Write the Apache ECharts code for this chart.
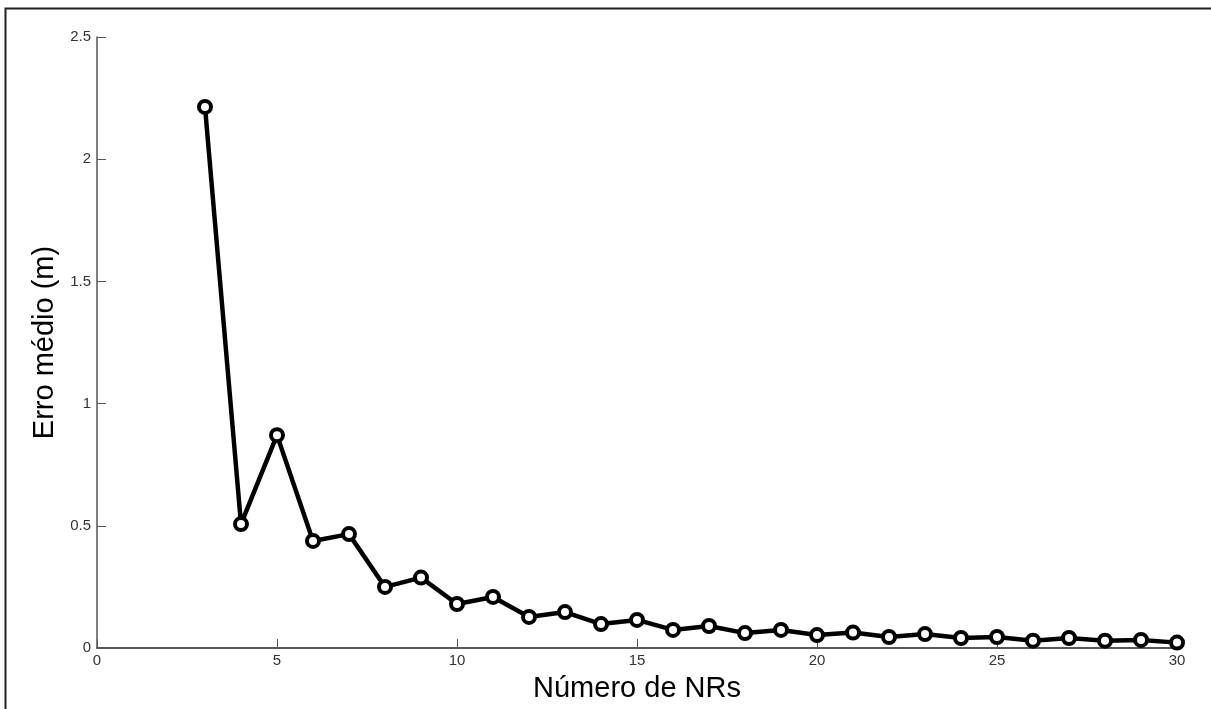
<!DOCTYPE html>
<html>
<head>
<meta charset="utf-8">
<script src="https://cdn.jsdelivr.net/npm/echarts@6/dist/echarts.min.js"></script>
<style>
  html, body { margin: 0; padding: 0; background: #fff; }
  #chart { width: 1211px; height: 709px; }
</style>
</head>
<body>
<div id="chart"></div>
<script>
// numero de NRs
const nrs = [3, 4, 5, 6, 7, 8, 9, 10, 11, 12, 13, 14, 15, 16, 17, 18, 19, 20, 21, 22, 23, 24, 25, 26, 27, 28, 29, 30];
// erro medio (m)
const erro = [2.214, 0.507, 0.871, 0.438, 0.466, 0.25, 0.288, 0.18, 0.209, 0.127, 0.147, 0.098, 0.115, 0.074, 0.09,
  0.061, 0.074, 0.053, 0.063, 0.045, 0.057, 0.041, 0.045, 0.03, 0.041, 0.03, 0.033, 0.022];
const xTicks = [0, 5, 10, 15, 20, 25, 30];
const yTicks = [0, 0.5, 1, 1.5, 2, 2.5];

const points = nrs.map((n, i) => [n, erro[i]]);

const myChart = echarts.init(document.getElementById('chart'));
const tickFont = { color: '#333', fontSize: 15, fontFamily: 'Liberation Sans, Arial, sans-serif' };

const option = {
  animation: false,
  backgroundColor: '#fff',
  grid: { left: 97, right: 34, top: 37, bottom: 61 },
  graphic: [{
    type: 'rect',
    shape: { x: 5.5, y: 8.5, width: 1230, height: 730 },
    style: { fill: 'none', stroke: '#222', lineWidth: 2 },
    silent: true
  }],
  xAxis: {
    type: 'value',
    min: xTicks[0],
    max: xTicks[xTicks.length - 1],
    interval: 5,
    name: 'Número de NRs',
    nameLocation: 'middle',
    nameGap: 26,
    nameTextStyle: { color: '#000', fontSize: 29, fontFamily: 'Liberation Sans, Arial, sans-serif' },
    axisLine: { lineStyle: { color: '#222', width: 1.5 } },
    axisTick: { inside: true, length: 9, lineStyle: { color: '#555' } },
    axisLabel: Object.assign({ margin: 5 }, tickFont),
    splitLine: { show: false }
  },
  yAxis: {
    type: 'value',
    min: yTicks[0],
    max: yTicks[yTicks.length - 1],
    interval: 0.5,
    name: 'Erro médio (m)',
    nameLocation: 'middle',
    nameGap: 34,
    nameTextStyle: { color: '#000', fontSize: 29, fontFamily: 'Liberation Sans, Arial, sans-serif' },
    axisLine: { show: true, lineStyle: { color: '#555', width: 1.5 } },
    axisTick: { show: true, inside: true, length: 9, lineStyle: { color: '#555' } },
    axisLabel: Object.assign({ margin: 6 }, tickFont),
    splitLine: { show: false }
  },
  series: [{
    type: 'line',
    data: points,
    symbol: 'circle',
    symbolSize: 12,
    lineStyle: { color: '#000', width: 4.5 },
    itemStyle: { color: '#fff', borderColor: '#000', borderWidth: 4 },
    z: 3
  }]
};
myChart.setOption(option);
</script>
</body>
</html>
